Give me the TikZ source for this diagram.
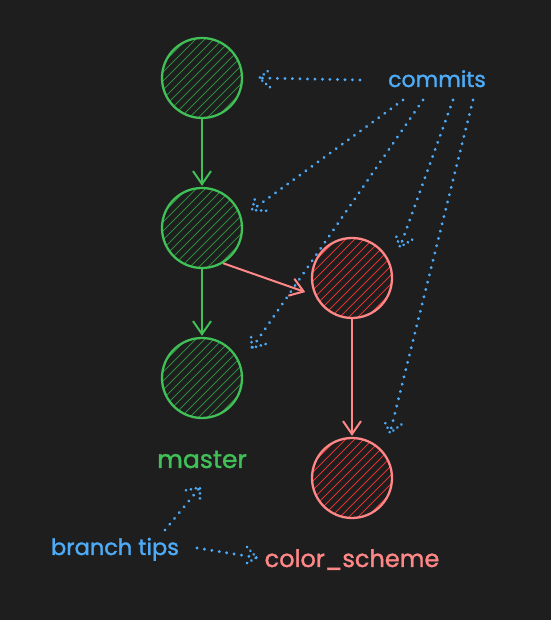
\documentclass[tikz,border=0pt]{standalone}
\usepackage{fontspec}
\setmainfont{Poppins}
\newfontfamily\hand{Poppins}[FakeBold=1.3]
\usetikzlibrary{arrows.meta,calc,decorations.markings}
\definecolor{bg}{HTML}{1E1E1E}
\definecolor{gstroke}{HTML}{40C057}
\definecolor{ghatch}{HTML}{2B8A3E}
\definecolor{rstroke}{HTML}{FF8787}
\definecolor{rhatch}{HTML}{E03131}
\definecolor{bl}{HTML}{4DABF7}
\tikzset{
  x=1pt,y=1pt,
  commit/.style={circle,draw=#1stroke,line width=2.3pt,minimum size=80pt,inner sep=0pt,
    path picture={\foreach \i in {-12,...,12}{
      \draw[#1hatch,line width=0.9pt] ($(path picture bounding box.center)+(\i*9-60,-60)$) -- ++(120,120);}}},
  link/.style={draw=#1,line width=2pt,-{Straight Barb[length=13pt,width=18pt,line width=2pt]}},
  pointer/.style={draw=bl,line width=3.2pt,line cap=round,dash pattern=on 0.01pt off 7.5pt,
    postaction={decorate,decoration={markings,mark=at position 1 with {
      \draw[bl,line width=3pt,line cap=round,dash pattern=on 0.01pt off 5pt] (-11,9) -- (0,0) -- (-11,-9);}}}},
  lbl/.style={inner sep=0pt,anchor=base}
}
\begin{document}
\begin{tikzpicture}
\fill[bg] (0,0) rectangle (551,620);
\useasboundingbox (0,0) rectangle (551,620);
% commits
\node[commit=g] (c1) at (202,542) {};
\node[commit=g] (c2) at (202,392) {};
\node[commit=g] (c3) at (202,242) {};
\node[commit=r] (r1) at (352,342) {};
\node[commit=r] (r2) at (352,142) {};
% labels
\node[lbl,text=bl,font=\hand\fontsize{22}{26}\selectfont] (commits) at (437,533) {commits};
\node[lbl,text=gstroke,font=\hand\fontsize{25}{30}\selectfont] (master) at (202,152) {master};
\node[lbl,text=bl,font=\hand\fontsize{22.5}{27}\selectfont] (tips) at (115,65) {branch tips};
\node[lbl,text=rstroke,font=\hand\fontsize{24}{29}\selectfont] (scheme) at (352,53) {color\_scheme};
% commit links
\draw[link=gstroke,shorten >=1pt] (c1.south) -- (c2.north);
\draw[link=gstroke,shorten >=1pt] (c2.south) -- (c3.north);
\draw[link=rstroke,shorten >=10pt] (c2.-59) -- (r1.205);
\draw[link=rstroke,shorten >=1pt] (r1.south) -- (r2.north);
% pointers
\coordinate (k0) at (360,540);
\coordinate (k1) at (403,520);
\coordinate (k2) at (423,520);
\coordinate (k3) at (453,520);
\coordinate (k4) at (473,520);
\draw[pointer] (k0) -- ($(c1.east)+(16,0)$);
\draw[pointer] (k1) -- ($(c2.center)+(50,18)$);
\draw[pointer] (k2) -- ($(c3.center)+(50,30)$);
\draw[pointer] (k3) -- ($(r1.center)+(48,31)$);
\draw[pointer] (k4) -- ($(r2.center)+(38,45)$);
\coordinate (t1) at (165,90);
\coordinate (t2) at (197,72);
\draw[pointer] (t1) -- ($(master.south)+(-2,-19)$);
\draw[pointer] (t2) -- ($(scheme.west)+(-8,2)$);
\end{tikzpicture}
\end{document}
